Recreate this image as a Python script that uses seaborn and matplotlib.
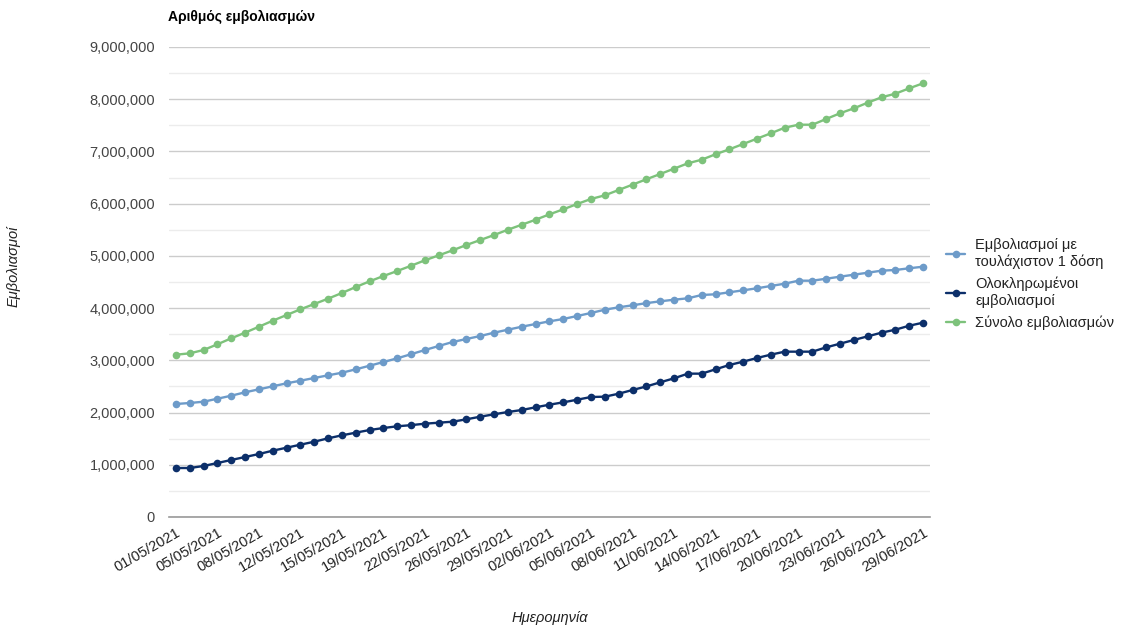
import pandas as pd
import matplotlib.pyplot as plt
import seaborn as sns
from matplotlib.ticker import FuncFormatter, MultipleLocator

sns.set_theme(style="white")
plt.rcParams['font.family'] = ['Liberation Sans', 'DejaVu Sans']

dates = [
    "01/05/2021", "03/05/2021", "04/05/2021", "05/05/2021", "06/05/2021", "07/05/2021",
    "08/05/2021", "10/05/2021", "11/05/2021", "12/05/2021", "13/05/2021", "14/05/2021",
    "15/05/2021", "17/05/2021", "18/05/2021", "19/05/2021", "20/05/2021", "21/05/2021",
    "22/05/2021", "24/05/2021", "25/05/2021", "26/05/2021", "27/05/2021", "28/05/2021",
    "29/05/2021", "31/05/2021", "01/06/2021", "02/06/2021", "03/06/2021", "04/06/2021",
    "05/06/2021", "06/06/2021", "07/06/2021", "08/06/2021", "09/06/2021", "10/06/2021",
    "11/06/2021", "12/06/2021", "13/06/2021", "14/06/2021", "15/06/2021", "16/06/2021",
    "17/06/2021", "18/06/2021", "19/06/2021", "20/06/2021", "21/06/2021", "22/06/2021",
    "23/06/2021", "24/06/2021", "25/06/2021", "26/06/2021", "27/06/2021", "28/06/2021",
    "29/06/2021",
]

# values in millions
first_dose = [
    2.164, 2.183, 2.208, 2.265, 2.323, 2.388, 2.445, 2.503, 2.560, 2.610, 2.662,
    2.713, 2.763, 2.828, 2.897, 2.968, 3.039, 3.118, 3.198, 3.275, 3.351, 3.409,
    3.466, 3.530, 3.587, 3.644, 3.696, 3.747, 3.792, 3.849, 3.907, 3.970, 4.015,
    4.054, 4.095, 4.130, 4.161, 4.188, 4.251, 4.265, 4.303, 4.341, 4.380, 4.424,
    4.468, 4.525, 4.525, 4.563, 4.602, 4.640, 4.678, 4.717, 4.730, 4.763, 4.793,
]
fully_vaccinated = [
    0.938, 0.938, 0.977, 1.034, 1.092, 1.149, 1.206, 1.270, 1.327, 1.385, 1.442,
    1.507, 1.564, 1.615, 1.666, 1.704, 1.737, 1.759, 1.787, 1.806, 1.825, 1.871,
    1.921, 1.967, 2.011, 2.049, 2.101, 2.151, 2.196, 2.246, 2.298, 2.304, 2.361,
    2.432, 2.500, 2.579, 2.656, 2.745, 2.745, 2.828, 2.911, 2.975, 3.045, 3.109,
    3.166, 3.166, 3.166, 3.249, 3.319, 3.390, 3.460, 3.530, 3.587, 3.663, 3.721,
]
total = [
    3.108, 3.134, 3.198, 3.307, 3.422, 3.530, 3.644, 3.759, 3.868, 3.977, 4.079,
    4.181, 4.290, 4.404, 4.513, 4.615, 4.711, 4.812, 4.916, 5.011, 5.107, 5.209,
    5.304, 5.400, 5.502, 5.597, 5.693, 5.796, 5.892, 5.994, 6.090, 6.160, 6.262,
    6.364, 6.467, 6.568, 6.670, 6.773, 6.842, 6.946, 7.041, 7.143, 7.245, 7.348,
    7.455, 7.512, 7.512, 7.622, 7.731, 7.826, 7.934, 8.037, 8.106, 8.209, 8.305,
]

series_names = [
    "Εμβολιασμοί με\nτουλάχιστον 1 δόση",
    "Ολοκληρωμένοι\nεμβολιασμοί",
    "Σύνολο εμβολιασμών",
]
colors = ["#6d9bc9", "#0c2f6a", "#7dc27b"]

rows = []
for name, vals in zip(series_names, [first_dose, fully_vaccinated, total]):
    for i, v in enumerate(vals):
        rows.append({"idx": i, "value": v * 1e6, "series": name})
df = pd.DataFrame(rows)

fig = plt.figure(figsize=(11.24, 6.34), dpi=100)
ax = fig.add_axes([169 / 1124, 1 - 517 / 634, (930 - 169) / 1124, (517 - 47) / 634])

sns.lineplot(
    data=df, x="idx", y="value", hue="series", hue_order=series_names,
    palette=dict(zip(series_names, colors)), marker="o", markersize=5.5,
    markeredgewidth=0, linewidth=1.7, ax=ax,
)

ax.set_xlim(-0.5, len(dates) - 0.5)
ax.set_ylim(0, 9e6)
ax.yaxis.set_major_locator(MultipleLocator(1e6))
ax.yaxis.set_minor_locator(MultipleLocator(5e5))
ax.yaxis.set_major_formatter(FuncFormatter(lambda v, p: f"{int(v):,}"))
ax.grid(which="major", axis="y", color="#cccccc", linewidth=1)
ax.grid(which="minor", axis="y", color="#ececec", linewidth=1)
ax.grid(False, axis="x")
ax.set_axisbelow(True)

ticks = list(range(0, len(dates), 3))
ax.set_xticks(ticks)
ax.set_xticklabels([dates[i] for i in ticks], rotation=30, ha="right",
                   rotation_mode="anchor", fontsize=10.5, color="#222222")
ax.tick_params(axis="both", which="both", length=0)
ax.tick_params(axis="y", labelsize=10.5, labelcolor="#444444", pad=10)
ax.tick_params(axis="x", pad=6)

for s in ["left", "right", "top"]:
    ax.spines[s].set_visible(False)
ax.spines["bottom"].set_color("#999999")
ax.spines["bottom"].set_linewidth(1.2)

ax.set_xlabel("")
ax.set_ylabel("")
fig.text(168 / 1124, 1 - 17 / 634, "Αριθμός εμβολιασμών", fontsize=10,
         fontweight="bold", va="center", ha="left", color="#000000")
fig.text(14 / 1124, 1 - 266 / 634, "Εμβολιασμοί", rotation=90, fontsize=10.5,
         style="italic", va="center", ha="center", color="#222222")
fig.text(550 / 1124, 1 - 618 / 634, "Ημερομηνία", fontsize=10.5,
         style="italic", va="center", ha="center", color="#222222")

handles, labels = ax.get_legend_handles_labels()
ax.get_legend().remove()
fig.legend(handles, labels, loc="upper left", bbox_to_anchor=(933 / 1124, 1 - 225 / 634),
           frameon=False, fontsize=10.5, handlelength=1.3, handletextpad=0.7,
           labelspacing=0.55, labelcolor="#222222")

plt.savefig("out.png", dpi=100)
